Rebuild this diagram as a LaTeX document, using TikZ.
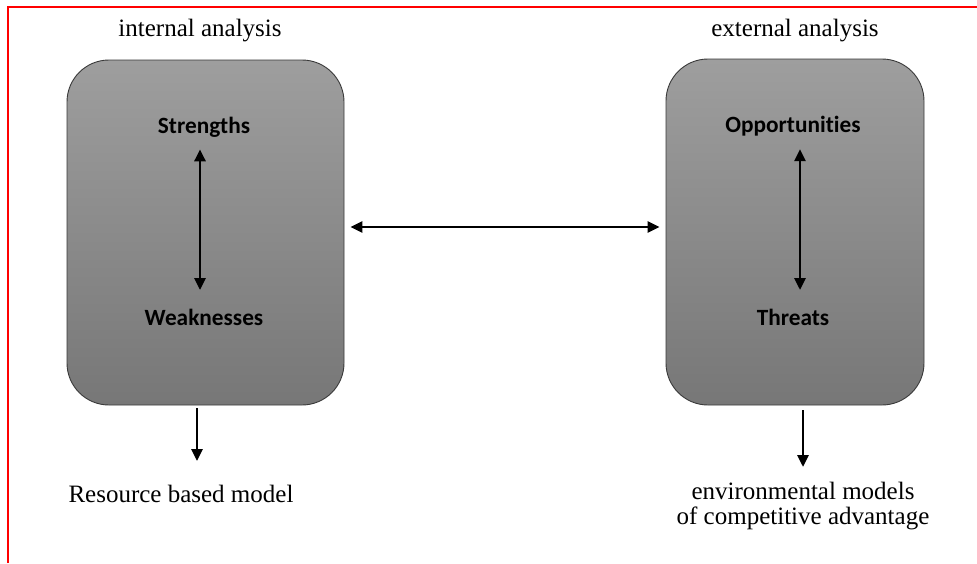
\documentclass[tikz,border=0pt]{standalone}
\usepackage{fontspec}
\setmainfont{Liberation Serif}
\newfontfamily\swotfont[Ligatures=CommonOff]{Carlito}
\usetikzlibrary{arrows.meta}
\definecolor{boxtop}{HTML}{9E9E9E}
\definecolor{boxbot}{HTML}{777777}
\definecolor{boxedge}{HTML}{3A3A3A}
\begin{document}
\begin{tikzpicture}[x=1pt,y=-1pt,
  swotbox/.style={draw=boxedge,line width=0.9pt,rounded corners=42pt,
    top color=boxtop,bottom color=boxbot,inner sep=0pt},
  swot/.style={font=\swotfont\bfseries\fontsize{23.3}{25}\selectfont,inner sep=0pt},
  caption/.style={font=\fontsize{25}{25}\selectfont,inner sep=0pt,align=center},
  link/.style={line width=2.8pt,{Triangle[length=12pt,width=11pt]}-{Triangle[length=12pt,width=11pt]}},
  outlink/.style={line width=2.8pt,-{Triangle[length=12pt,width=11pt]}}]
  \useasboundingbox (0,0) rectangle (977,563);
  \fill[white] (0,0) rectangle (977,563);
  % frame lines
  \draw[red,line width=1.3pt] (8,563) -- (8,7) -- (977,7);

  % boxes
  \node[swotbox,minimum width=277pt,minimum height=345pt] (L) at (205.5,232.5) {};
  \node[swotbox,minimum width=258pt,minimum height=346pt] (R) at (795,232) {};

  % headings
  \node[caption] (hl) at (200,31) {internal analysis};
  \node[caption] (hr) at (795,31) {external analysis};

  % SWOT labels
  \node[swot] (S) at (204,127) {Strengths};
  \node[swot] (W) at (204,317) {Weaknesses};
  \node[swot] (O) at (793,126) {Opportunities};
  \node[swot] (T) at (793,317) {Threats};

  % links inside the boxes
  \draw[link] ([xshift=-4pt]S.south) ++(0,12) coordinate (s1) (s1) -- ([xshift=-4pt]W.north |- 0,290);
  \draw[link] ([xshift=7pt]O.south) ++(0,13) coordinate (o1) (o1) -- ([xshift=7pt]T.north |- 0,290);

  % link between the boxes
  \draw[link,shorten <=6pt,shorten >=6pt] (L.east |- 0,227) -- (R.west |- 0,227);

  % outcomes
  \node[caption] (rb) at (181,494) {Resource based model};
  \node[caption] (em) at (803,506) {environmental models\\of competitive advantage};
  \coordinate (la) at (197,461);
  \coordinate (ra) at (803,467);
  \draw[outlink,shorten <=3pt] (L.south -| la) -- (la);
  \draw[outlink,shorten <=5pt] (R.south -| ra) -- (ra);
\end{tikzpicture}
\end{document}
